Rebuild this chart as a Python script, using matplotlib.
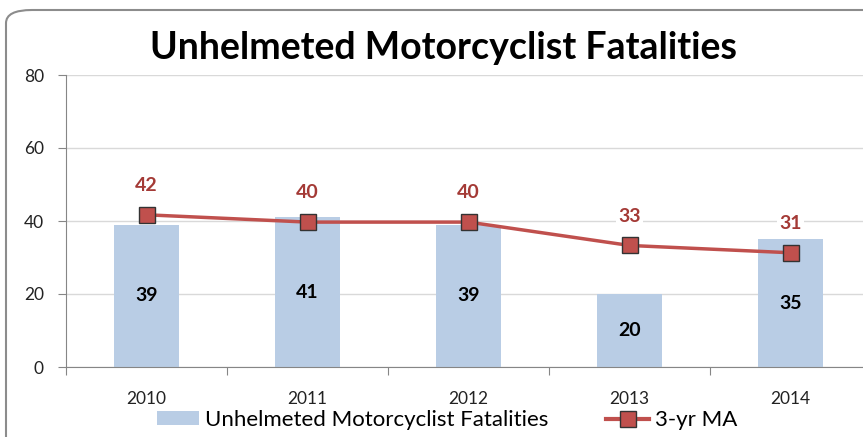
import matplotlib.pyplot as plt
from matplotlib.patches import FancyBboxPatch
from matplotlib.lines import Line2D
from matplotlib.patches import Patch
import numpy as np

years = ['2010', '2011', '2012', '2013', '2014']
fatalities = [39, 41, 39, 20, 35]
ma3 = [41.7, 39.7, 39.7, 33.3, 31.3]
ma3_labels = ['42', '40', '40', '33', '31']

bar_color = '#B9CDE5'
line_color = '#C0504D'
label_red = '#A43A36'
grid_color = '#D9D9D9'
axis_color = '#868686'

plt.rcParams['font.family'] = ['Lato', 'DejaVu Sans']

W, H = 863, 437
fig = plt.figure(figsize=(W / 100, H / 100), dpi=100)

# outer rounded border
border = FancyBboxPatch((6 / W, -30 / H), (W + 30) / W, (H + 20) / H,
                        boxstyle='round,pad=0,rounding_size=0.03',
                        transform=fig.transFigure, facecolor='none',
                        edgecolor='#8C8C8C', linewidth=1.5, zorder=-1)
fig.patches.append(border)

left, right, top, bottom = 66, 871, 75, 367
ax = fig.add_axes([left / W, 1 - bottom / H, (right - left) / W, (bottom - top) / H])
ax.set_facecolor('none')

x = np.arange(len(years))
ax.bar(x, fatalities, width=0.4, color=bar_color, zorder=2)
ax.plot(x, ma3, color=line_color, linewidth=2.5, marker='s', markersize=11,
        markerfacecolor=line_color, markeredgecolor='#333333', markeredgewidth=1, zorder=4)

for xi, v in zip(x, fatalities):
    ax.text(xi, v / 2, str(v), ha='center', va='center', fontsize=14,
            fontweight='bold', color='black', zorder=5)
for xi, v, lab in zip(x, ma3, ma3_labels):
    ax.annotate(lab, (xi, v), xytext=(0, 21), textcoords='offset points',
                ha='center', va='center', fontsize=14, fontweight='bold',
                color=label_red, zorder=5,
                bbox=dict(facecolor='white', edgecolor='none', pad=2))

ax.set_xlim(-0.5, 4.5)
ax.set_ylim(0, 80)
ax.set_yticks([0, 20, 40, 60, 80])
ax.yaxis.grid(True, color=grid_color, linewidth=1, zorder=0)
ax.set_axisbelow(True)

ax.set_xticks(np.arange(-0.5, 5, 1))
ax.set_xticklabels([])
ax.set_xticks(x, minor=True)
ax.set_xticklabels(years, minor=True)
ax.tick_params(axis='x', which='minor', length=0, pad=17, labelsize=12.5, labelcolor='#222222')
ax.tick_params(axis='x', which='major', length=6, color=axis_color, direction='out')
ax.tick_params(axis='y', length=6, color=axis_color, labelsize=12.5, labelcolor='#222222', pad=10)

for s in ['top', 'right']:
    ax.spines[s].set_visible(False)
for s in ['left', 'bottom']:
    ax.spines[s].set_color(axis_color)

fig.text(443 / W, 1 - 48 / H, 'Unhelmeted Motorcyclist Fatalities', ha='center', va='center',
         fontsize=27, fontweight='bold', color='black')

handles = [Patch(facecolor=bar_color, edgecolor='none'),
           Line2D([0], [0], color=line_color, linewidth=3, marker='s', markersize=11,
                  markerfacecolor=line_color, markeredgecolor='#333333')]
fig.legend(handles, ['Unhelmeted Motorcyclist Fatalities', '3-yr MA'],
           loc='center', bbox_to_anchor=(447 / W, 1 - 420 / H), ncol=2, frameon=False,
           fontsize=16, handlelength=1.9, handleheight=0.6, handletextpad=0.28,
           columnspacing=2.6, borderaxespad=0)

fig.savefig('out.png', dpi=100)
